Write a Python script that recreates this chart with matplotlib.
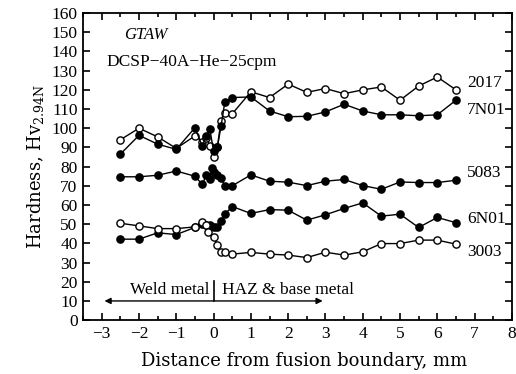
import matplotlib
matplotlib.use("Agg")
import matplotlib.pyplot as plt
from matplotlib.ticker import MultipleLocator

x_2017 = [-2.5, -2, -1.5, -1, -0.5, -0.3, -0.2, -0.1, 0, 0.1, 0.2, 0.3, 0.5, 1, 1.5, 2, 2.5, 3, 3.5, 4, 4.5, 5, 5.5, 6, 6.5]
y_2017 = [94, 100, 95.5, 89.5, 96, 93, 95, 91, 85, 90, 104, 108, 107.5, 119, 116, 123, 118.7, 120.7, 118, 120, 121.5, 114.6, 122, 126.7, 120]

x_7n01 = [-2.5, -2, -1.5, -1, -0.5, -0.3, -0.2, -0.1, 0, 0.1, 0.2, 0.3, 0.5, 1, 1.5, 2, 2.5, 3, 3.5, 4, 4.5, 5, 5.5, 6, 6.5]
y_7n01 = [86.5, 96.3, 91.7, 89, 100.3, 90.5, 96, 99.5, 88, 90, 101, 113.5, 116, 116.3, 109, 106, 106.2, 108.5, 112.5, 109, 107, 107, 106.5, 107, 114.6]

x_5083 = [-2.5, -2, -1.5, -1, -0.5, -0.3, -0.2, -0.1, -0.05, 0, 0.1, 0.2, 0.3, 0.5, 1, 1.5, 2, 2.5, 3, 3.5, 4, 4.5, 5, 5.5, 6, 6.5]
y_5083 = [74.7, 74.7, 75.5, 77.7, 75, 70.7, 75.5, 73.5, 79.5, 77, 75.5, 74, 70, 70, 75.7, 72.4, 71.9, 70.1, 72.4, 73.3, 70.1, 68.2, 72, 71.7, 71.7, 72.9]

x_6n01 = [-2.5, -2, -1.5, -1, -0.5, -0.3, -0.2, -0.1, 0, 0.1, 0.2, 0.3, 0.5, 1, 1.5, 2, 2.5, 3, 3.5, 4, 4.5, 5, 5.5, 6, 6.5]
y_6n01 = [42.2, 42.2, 45.5, 44.6, 48.3, 50.3, 49.5, 49.5, 48.6, 48.6, 51.5, 55.2, 59.2, 55.6, 57.6, 57.3, 52.1, 54.9, 58.2, 61.1, 54.2, 55.2, 48.3, 53.5, 50.8]

x_3003 = [-2.5, -2, -1.5, -1, -0.5, -0.3, -0.2, -0.15, 0, 0.1, 0.2, 0.3, 0.5, 1, 1.5, 2, 2.5, 3, 3.5, 4, 4.5, 5, 5.5, 6, 6.5]
y_3003 = [50.5, 49.1, 47.7, 47.7, 48.6, 51, 49.5, 46, 43.2, 39.3, 35.6, 35.5, 34.4, 35.3, 34.4, 33.9, 32.6, 35.4, 33.9, 35.6, 39.9, 39.9, 41.7, 41.7, 39.6]

series_names = ["2017", "7N01", "5083", "6N01", "3003"]
label_y = [123.5, 109.5, 76.5, 52.5, 35.5]
x_tick_labels = ['\u22123', '\u22122', '\u22121', '0', '1', '2', '3', '4', '5', '6', '7', '8']

serif = ["Liberation Serif", "DejaVu Serif"]
plt.rcParams['font.family'] = serif

fig = plt.figure(figsize=(5.16, 3.74), dpi=100)
ax = fig.add_axes([0.161, 0.144, 0.831, 0.821])

series = [(x_2017, y_2017, True), (x_7n01, y_7n01, False), (x_5083, y_5083, False),
          (x_6n01, y_6n01, False), (x_3003, y_3003, True)]
for xs, ys, is_open in series:
    ax.plot(xs, ys, color='black', lw=1.0, marker='o', ms=5.2,
            mfc='white' if is_open else 'black', mec='black', mew=1.0, zorder=3)

for name, ly in zip(series_names, label_y):
    ax.text(6.8, ly, name, fontsize=12.5, va='center', ha='left')

ax.set_xlim(-3.5, 8)
ax.set_ylim(0, 160)
ax.set_xticks(range(-3, 9))
ax.set_xticklabels(x_tick_labels)
ax.xaxis.set_minor_locator(MultipleLocator(0.5))
ax.yaxis.set_major_locator(MultipleLocator(10))
ax.tick_params(which='both', direction='in', top=True, right=True, labelsize=12.5, width=1.2)
ax.tick_params(which='major', length=5, pad=4)
ax.tick_params(which='minor', length=3)
for s in ax.spines.values():
    s.set_linewidth(1.3)

ax.text(-2.4, 148.5, "GTAW", fontsize=12, style='italic', va='center')
ax.text(-2.87, 134.5, "DCSP\u221240A\u2212He\u221225cpm", fontsize=12.5, va='center')

ax.annotate('', xy=(-3, 10), xytext=(3, 10),
            arrowprops=dict(arrowstyle='<|-|>', color='black', lw=1.0, mutation_scale=9))
ax.plot([0, 0], [10, 20.5], color='black', lw=1.2)
ax.text(-0.12, 15.5, "Weld metal", fontsize=12.5, ha='right', va='center')
ax.text(0.22, 15.5, "HAZ & base metal", fontsize=12.5, ha='left', va='center')

ax.set_xlabel("Distance from fusion boundary, mm", fontsize=13, family=["DejaVu Serif"])
ax.xaxis.set_label_coords(0.515, -0.105)
ax.set_ylabel(r"Hardness, Hv$_{\mathregular{2.94N}}$", fontsize=13, family=["DejaVu Serif"])

fig.savefig("out.png", dpi=100)
